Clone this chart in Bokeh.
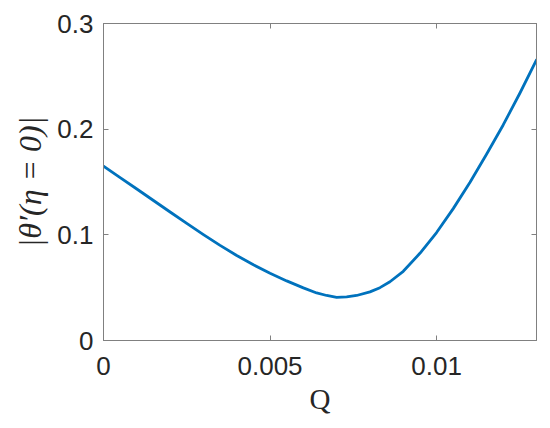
from bokeh.plotting import figure
from bokeh.models import LinearAxis, FixedTicker, Range1d
from bokeh.embed import file_html
from bokeh.resources import INLINE

# data
q_values = [0.0, 0.0005, 0.001, 0.0015, 0.002, 0.0025, 0.003, 0.0035, 0.004, 0.0045,
            0.005, 0.0055, 0.006, 0.0064, 0.0067, 0.007, 0.0073, 0.0076, 0.008, 0.0083,
            0.0086, 0.009, 0.0095, 0.01, 0.0105, 0.011, 0.0115, 0.012, 0.0125, 0.013]
theta_values = [0.165, 0.1542, 0.1434, 0.1325, 0.1216, 0.1108, 0.1002, 0.0900, 0.0804, 0.0716,
                0.0636, 0.0564, 0.0498, 0.0450, 0.0426, 0.0409, 0.0412, 0.0426, 0.0460, 0.0500,
                0.0556, 0.0655, 0.0825, 0.1022, 0.1248, 0.1495, 0.1762, 0.2040, 0.2340, 0.2655]
x_ticks = [0, 0.005, 0.01]
x_tick_labels = ["0", "0.005", "0.01"]
y_ticks = [0, 0.1, 0.2, 0.3]
y_tick_labels = ["0", "0.1", "0.2", "0.3"]

AXIS_COLOR = "#808080"
LABEL_COLOR = "#262626"

p = figure(width=550, height=428, output_backend="svg", toolbar_location=None,
           x_range=Range1d(0, 0.013), y_range=Range1d(0, 0.3),
           min_border_left=103, min_border_right=14, min_border_top=23, min_border_bottom=88)
p.grid.visible = False
p.outline_line_color = AXIS_COLOR
p.outline_line_width = 1
p.background_fill_color = "white"
p.border_fill_color = "white"

p.line(q_values, theta_values, line_color="#0072BD", line_width=2.8,
       line_join="round", line_cap="round")

def style(ax, ticks, labels, show_labels=True):
    ax.ticker = FixedTicker(ticks=ticks)
    ax.axis_line_color = AXIS_COLOR
    ax.major_tick_line_color = AXIS_COLOR
    ax.major_tick_in = 5
    ax.major_tick_out = 0
    ax.minor_tick_line_color = None
    ax.major_label_text_font = "Liberation Sans"
    ax.major_label_text_color = LABEL_COLOR
    ax.major_label_text_font_size = "26px"
    if show_labels:
        ax.major_label_overrides = {t: l for t, l in zip(ticks, labels)}
    else:
        ax.major_label_overrides = {t: "" for t in ticks}
        ax.major_label_standoff = 0

xa = p.xaxis[0]
style(xa, x_ticks, x_tick_labels)
xa.major_label_standoff = 16
xa.axis_label = "Q"
xa.axis_label_text_font = "Liberation Serif"
xa.axis_label_text_font_style = "normal"
xa.axis_label_text_font_size = "29px"
xa.axis_label_text_color = LABEL_COLOR
xa.axis_label_standoff = 5

ya = p.yaxis[0]
style(ya, y_ticks, y_tick_labels)
ya.major_label_standoff = 10
ya.axis_label = "|θ′(η = 0)|"
ya.axis_label_text_font = "Liberation Serif"
ya.axis_label_text_font_style = "italic"
ya.axis_label_text_font_size = "32px"
ya.axis_label_text_color = LABEL_COLOR
ya.axis_label_standoff = 6

top = LinearAxis()
style(top, x_ticks, x_tick_labels, show_labels=False)
p.add_layout(top, "above")
right = LinearAxis()
style(right, y_ticks, y_tick_labels, show_labels=False)
p.add_layout(right, "right")

open("out.html", "w").write(file_html(p, INLINE))
